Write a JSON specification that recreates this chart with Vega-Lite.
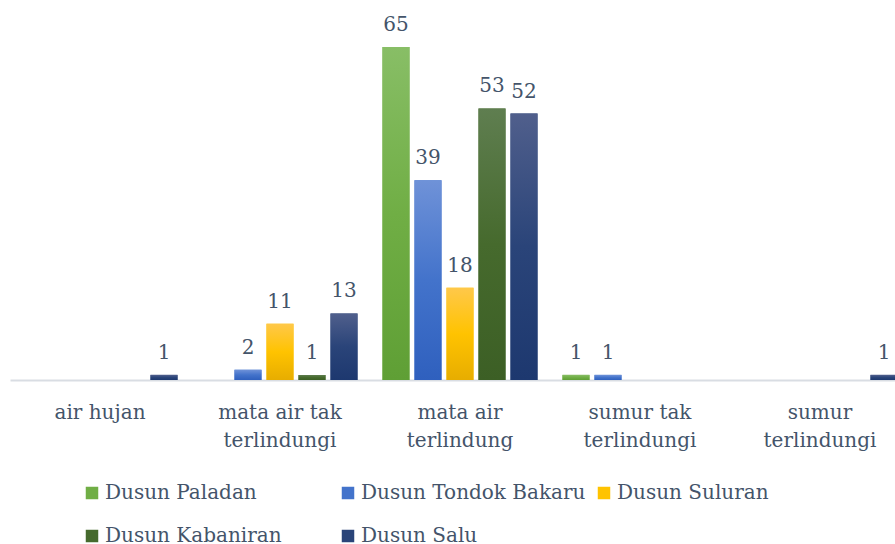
{
  "$schema": "https://vega.github.io/schema/vega-lite/v6.json",
  "autosize": "none",
  "width": 885,
  "height": 333,
  "padding": {"left": 10, "top": 47, "right": 0, "bottom": 164},
  "background": "white",
  "config": {
    "view": {"stroke": null},
    "font": "DejaVu Serif",
    "text": {"font": "DejaVu Serif"}
  },
  "data": {
    "values": [
      {"sumber": "air hujan", "dusun": "Dusun Salu", "jumlah": 1},
      {"sumber": "mata air tak|terlindungi", "dusun": "Dusun Tondok Bakaru", "jumlah": 2},
      {"sumber": "mata air tak|terlindungi", "dusun": "Dusun Suluran", "jumlah": 11},
      {"sumber": "mata air tak|terlindungi", "dusun": "Dusun Kabaniran", "jumlah": 1},
      {"sumber": "mata air tak|terlindungi", "dusun": "Dusun Salu", "jumlah": 13},
      {"sumber": "mata air|terlindung", "dusun": "Dusun Paladan", "jumlah": 65},
      {"sumber": "mata air|terlindung", "dusun": "Dusun Tondok Bakaru", "jumlah": 39},
      {"sumber": "mata air|terlindung", "dusun": "Dusun Suluran", "jumlah": 18},
      {"sumber": "mata air|terlindung", "dusun": "Dusun Kabaniran", "jumlah": 53},
      {"sumber": "mata air|terlindung", "dusun": "Dusun Salu", "jumlah": 52},
      {"sumber": "sumur tak|terlindungi", "dusun": "Dusun Paladan", "jumlah": 1},
      {"sumber": "sumur tak|terlindungi", "dusun": "Dusun Tondok Bakaru", "jumlah": 1},
      {"sumber": "sumur|terlindungi", "dusun": "Dusun Salu", "jumlah": 1}
    ]
  },
  "encoding": {
    "x": {
      "field": "sumber",
      "type": "nominal",
      "sort": ["air hujan", "mata air tak|terlindungi", "mata air|terlindung", "sumur tak|terlindungi", "sumur|terlindungi"],
      "scale": {"range": [0, 900], "paddingInner": 0, "paddingOuter": 0},
      "axis": {
        "title": null,
        "labelAngle": 0,
        "labelExpr": "split(datum.label, '|')",
        "labelFont": "DejaVu Serif",
        "labelFontSize": 20,
        "labelColor": "#44546a",
        "labelLineHeight": 28,
        "labelPadding": 22,
        "ticks": false,
        "domainColor": "#d9dde3",
        "domainWidth": 2,
        "grid": false
      }
    },
    "xOffset": {
      "field": "dusun",
      "type": "nominal",
      "scale": {
        "domain": ["Dusun Paladan", "Dusun Tondok Bakaru", "Dusun Suluran", "Dusun Kabaniran", "Dusun Salu"],
        "paddingInner": 0.156,
        "paddingOuter": 0.39
      }
    },
    "y": {
      "field": "jumlah",
      "type": "quantitative",
      "scale": {"domain": [0, 65], "nice": false},
      "axis": null
    }
  },
  "layer": [
    {
      "mark": {"type": "bar", "strokeWidth": 0},
      "encoding": {
        "color": {
          "field": "dusun",
          "type": "nominal",
          "scale": {
            "domain": ["Dusun Paladan", "Dusun Tondok Bakaru", "Dusun Suluran", "Dusun Kabaniran", "Dusun Salu"],
            "range": ["#70ae45", "#4373cb", "#ffc300", "#466a2d", "#2a4479"]
          },
          "legend": {
            "title": null,
            "orient": "none",
            "legendX": 72,
            "legendY": 436,
            "direction": "horizontal",
            "columns": 3,
            "gridAlign": "all",
            "columnPadding": 8,
            "rowPadding": 23,
            "padding": 0,
            "symbolType": "square",
            "symbolSize": 156,
            "symbolStrokeWidth": 0,
            "symbolOpacity": 1,
            "labelFont": "DejaVu Serif",
            "labelFontSize": 20,
            "labelColor": "#44546a",
            "labelOffset": 3,
            "labelLimit": 400
          }
        }
      }
    },
    {
      "transform": [{"filter": "datum.dusun == 'Dusun Paladan'"}],
      "mark": {"type": "bar", "strokeWidth": 0, "color": {"gradient": "linear", "x1": 0, "y1": 0, "x2": 0, "y2": 1, "stops": [{"offset": 0, "color": "#88be66"}, {"offset": 0.5, "color": "#70ae45"}, {"offset": 1, "color": "#5f9f35"}]}}
    },
    {
      "transform": [{"filter": "datum.dusun == 'Dusun Tondok Bakaru'"}],
      "mark": {"type": "bar", "strokeWidth": 0, "color": {"gradient": "linear", "x1": 0, "y1": 0, "x2": 0, "y2": 1, "stops": [{"offset": 0, "color": "#6f92d8"}, {"offset": 0.5, "color": "#4373cb"}, {"offset": 1, "color": "#2f60be"}]}}
    },
    {
      "transform": [{"filter": "datum.dusun == 'Dusun Suluran'"}],
      "mark": {"type": "bar", "strokeWidth": 0, "color": {"gradient": "linear", "x1": 0, "y1": 0, "x2": 0, "y2": 1, "stops": [{"offset": 0, "color": "#ffc84a"}, {"offset": 0.5, "color": "#ffc300"}, {"offset": 1, "color": "#e7ad00"}]}}
    },
    {
      "transform": [{"filter": "datum.dusun == 'Dusun Kabaniran'"}],
      "mark": {"type": "bar", "strokeWidth": 0, "color": {"gradient": "linear", "x1": 0, "y1": 0, "x2": 0, "y2": 1, "stops": [{"offset": 0, "color": "#5f7e50"}, {"offset": 0.5, "color": "#466a2d"}, {"offset": 1, "color": "#3c5f25"}]}}
    },
    {
      "transform": [{"filter": "datum.dusun == 'Dusun Salu'"}],
      "mark": {"type": "bar", "strokeWidth": 0, "color": {"gradient": "linear", "x1": 0, "y1": 0, "x2": 0, "y2": 1, "stops": [{"offset": 0, "color": "#505f8c"}, {"offset": 0.5, "color": "#2a4479"}, {"offset": 1, "color": "#1d386f"}]}}
    },
    {
      "mark": {"type": "text", "baseline": "alphabetic", "dy": -16, "font": "DejaVu Serif", "fontSize": 20, "color": "#44546a"},
      "encoding": {
        "text": {"field": "jumlah", "type": "quantitative"}
      }
    }
  ]
}
